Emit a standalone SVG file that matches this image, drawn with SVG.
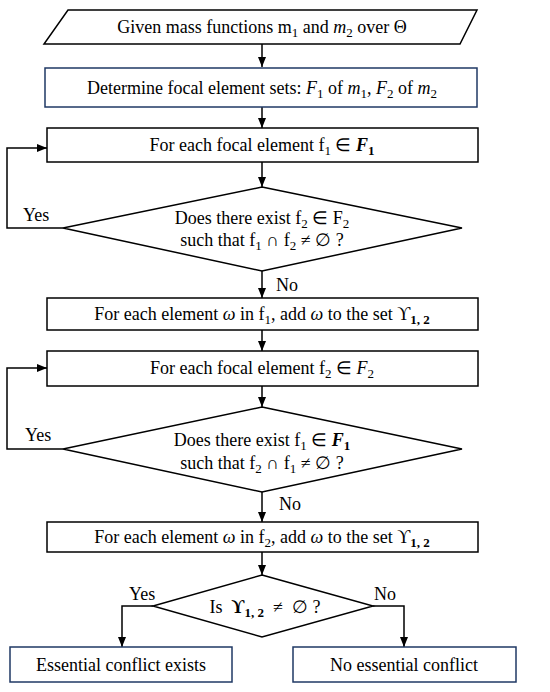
<svg xmlns="http://www.w3.org/2000/svg" width="550" height="692" viewBox="0 0 550 692">
<style>
.s{fill:#fff;stroke:#000;stroke-width:1.5}
.b{fill:#fff;stroke:#1f3864;stroke-width:1.5}
.c{fill:none;stroke:#000;stroke-width:1.5}
text{font-family:"Liberation Serif","Times New Roman",serif;font-size:18px;fill:#000}
.m{text-anchor:middle}
.i{font-style:italic}
.bi{font-style:italic;font-weight:bold}
.sb{font-size:13px}
</style>
<defs>
<marker id="ah" markerWidth="10" markerHeight="8" refX="10" refY="4" orient="auto" markerUnits="userSpaceOnUse">
<path d="M0,0 L10,4 L0,8 Z" fill="#000"/>
</marker>
</defs>
<rect width="550" height="692" fill="#fff"/>
<g id="connectors">
<line class="c" x1="262" y1="44" x2="262" y2="67" marker-end="url(#ah)"/>
<line class="c" x1="262" y1="107" x2="262" y2="128" marker-end="url(#ah)"/>
<line class="c" x1="262" y1="162" x2="262" y2="187" marker-end="url(#ah)"/>
<line class="c" x1="262" y1="271" x2="262" y2="298" marker-end="url(#ah)"/>
<polyline class="c" points="63,228 7,228 7,148 47,148" marker-end="url(#ah)"/>
<line class="c" x1="262" y1="330" x2="262" y2="351" marker-end="url(#ah)"/>
<line class="c" x1="262" y1="386" x2="262" y2="407" marker-end="url(#ah)"/>
<line class="c" x1="262" y1="492" x2="262" y2="522" marker-end="url(#ah)"/>
<polyline class="c" points="63,449 7,449 7,368 47,368" marker-end="url(#ah)"/>
<line class="c" x1="262" y1="552" x2="262" y2="575" marker-end="url(#ah)"/>
<polyline class="c" points="153,606 122,606 122,647" marker-end="url(#ah)"/>
<polyline class="c" points="373,606 404,606 404,647" marker-end="url(#ah)"/>
<text x="23" y="221">Yes</text>
<text x="276" y="291">No</text>
<text x="25" y="441">Yes</text>
<text x="279" y="510">No</text>
<text x="129" y="600">Yes</text>
<text x="374" y="600">No</text>
</g>
<g id="start">
<polygon class="s" points="68,10 477,10 460,44 44,44"/>
<text class="m" x="262" y="33">Given mass functions m<tspan class="sb" dy="4">1</tspan><tspan dy="-4"> and </tspan><tspan class="i">m</tspan><tspan class="sb" dy="4">2</tspan><tspan dy="-4"> over Θ</tspan></text>
</g>
<g id="determine">
<rect class="b" x="45" y="68" width="432" height="39"/>
<text class="m" x="262" y="94">Determine focal element sets: <tspan class="i">F</tspan><tspan class="sb" dy="4">1</tspan><tspan dy="-4"> of </tspan><tspan class="i">m</tspan><tspan class="sb" dy="4">1</tspan><tspan dy="-4">, </tspan><tspan class="i">F</tspan><tspan class="sb" dy="4">2</tspan><tspan dy="-4"> of </tspan><tspan class="i">m</tspan><tspan class="sb" dy="4">2</tspan></text>
</g>
<g id="loop1">
<rect class="s" x="47" y="128" width="431" height="34"/>
<text class="m" x="262" y="151">For each focal element f<tspan class="sb" dy="4">1</tspan><tspan dy="-4"> ∈ </tspan><tspan class="bi">F</tspan><tspan class="sb" font-weight="bold" dy="4">1</tspan></text>
</g>
<g id="decision1">
<polygon class="s" points="262,187 462,228 262,271 63,228"/>
<text class="m" x="262" y="224">Does there exist f<tspan class="sb" dy="4">2</tspan><tspan dy="-4"> ∈ F</tspan><tspan class="sb" dy="4">2</tspan></text>
<text class="m" x="262" y="246">such that f<tspan class="sb" dy="4">1</tspan><tspan dy="-4"> ∩ f</tspan><tspan class="sb" dy="4">2</tspan><tspan dy="-4"> ≠  ∅ ?</tspan></text>
</g>
<g id="add1">
<rect class="s" x="47" y="298" width="431" height="32"/>
<text class="m" x="262" y="320">For each element <tspan class="i">ω</tspan> in f<tspan class="sb" dy="4">1</tspan><tspan dy="-4">, add </tspan><tspan class="i">ω</tspan> to the set ϒ<tspan class="sb" font-weight="bold" dy="4">1, 2</tspan></text>
</g>
<g id="loop2">
<rect class="s" x="47" y="351" width="431" height="35"/>
<text class="m" x="262" y="374">For each focal element f<tspan class="sb" dy="4">2</tspan><tspan dy="-4"> ∈ </tspan><tspan class="i">F</tspan><tspan class="sb" dy="4">2</tspan></text>
</g>
<g id="decision2">
<polygon class="s" points="262,407 462,449 262,492 63,449"/>
<text class="m" x="262" y="446">Does there exist f<tspan class="sb" dy="4">1</tspan><tspan dy="-4"> ∈ </tspan><tspan class="bi">F</tspan><tspan class="sb" font-weight="bold" dy="4">1</tspan></text>
<text class="m" x="262" y="469">such that f<tspan class="sb" dy="4">2</tspan><tspan dy="-4"> ∩ f</tspan><tspan class="sb" dy="4">1</tspan><tspan dy="-4"> ≠  ∅ ?</tspan></text>
</g>
<g id="add2">
<rect class="s" x="47" y="522" width="431" height="30"/>
<text class="m" x="262" y="543">For each element <tspan class="i">ω</tspan> in f<tspan class="sb" dy="4">2</tspan><tspan dy="-4">, add </tspan><tspan class="i">ω</tspan> to the set ϒ<tspan class="sb" font-weight="bold" dy="4">1, 2</tspan></text>
</g>
<g id="decision3">
<polygon class="s" points="262,575 373,606 262,637 153,606"/>
<text class="m" x="265" y="613" xml:space="preserve">Is  <tspan font-weight="bold">ϒ</tspan><tspan class="sb" font-weight="bold" dy="4">1, 2</tspan><tspan dy="-4">  ≠  ∅ ?</tspan></text>
</g>
<g id="conflict">
<rect class="b" x="10" y="647" width="222" height="35"/>
<text class="m" x="121" y="671">Essential conflict exists</text>
</g>
<g id="noconflict">
<rect class="b" x="293" y="647" width="223" height="35"/>
<text class="m" x="404" y="671">No essential conflict</text>
</g>
</svg>
